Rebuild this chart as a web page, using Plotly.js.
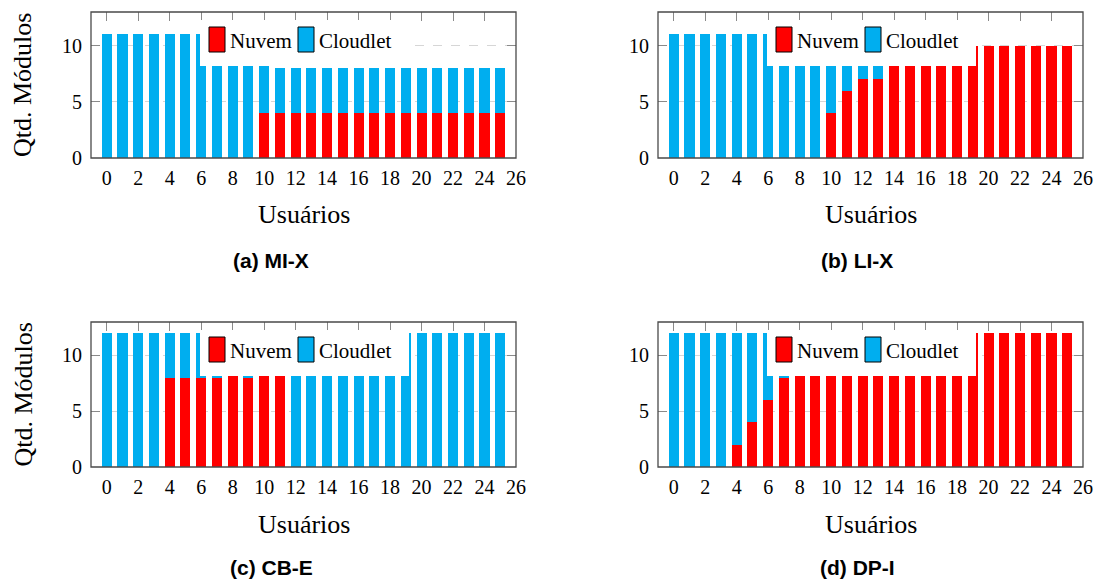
<!DOCTYPE html>
<html>
<head>
<meta charset="utf-8">
<script src="https://cdn.plot.ly/plotly-3.0.1.min.js"></script>
<style>html,body{margin:0;padding:0;background:#fff;}#chart{width:1099px;height:584px;}</style>
</head>
<body>
<div id="chart"></div>
<script>
// ---- data ----
const usuarios = [0,1,2,3,4,5,6,7,8,9,10,11,12,13,14,15,16,17,18,19,20,21,22,23,24,25];
const xTicks = [0,2,4,6,8,10,12,14,16,18,20,22,24,26];
const yTicks = [0,5,10];
const seriesNames = ["Nuvem", "Cloudlet"];
const panelCaptions = ["(a) MI-X", "(b) LI-X", "(c) CB-E", "(d) DP-I"];
const xTitle = "Usuários";
const yTitle = "Qtd. Módulos";

const nuvemMIX    = [0,0,0,0,0,0,0,0,0,0,4,4,4,4,4,4,4,4,4,4,4,4,4,4,4,4];
const cloudletMIX = [11,11,11,11,11,11,11,11,11,11,7,4,4,4,4,4,4,4,4,4,4,4,4,4,4,4];

const nuvemLIX    = [0,0,0,0,0,0,0,0,0,0,4,6,7,7,10,10,10,10,10,10,10,10,10,10,10,10];
const cloudletLIX = [11,11,11,11,11,11,11,11,11,11,7,5,4,4,0,0,0,0,0,0,0,0,0,0,0,0];

const nuvemCBE    = [0,0,0,0,8,8,8,8,12,8,12,12,0,0,0,0,0,0,0,0,0,0,0,0,0,0];
const cloudletCBE = [12,12,12,12,4,4,4,4,0,4,0,0,12,12,12,12,12,12,12,12,12,12,12,12,12,12];

const nuvemDPI    = [0,0,0,0,2,4,6,8,12,12,12,12,12,12,12,12,12,12,12,12,12,12,12,12,12,12];
const cloudletDPI = [12,12,12,12,10,8,6,4,0,0,0,0,0,0,0,0,0,0,0,0,0,0,0,0,0,0];

const panelData = [
  [nuvemMIX, cloudletMIX],
  [nuvemLIX, cloudletLIX],
  [nuvemCBE, cloudletCBE],
  [nuvemDPI, cloudletDPI]
];

// ---- layout helpers ----
const W = 1099, H = 584;
const px = x => x / W;
const py = y => 1 - y / H;
const RED = "#ff0000", BLUE = "#00aeef";
const SERIF = "'Liberation Serif', 'Times New Roman', serif";
const SANS = "'Liberation Sans', Arial, sans-serif";

const boxes = [
  {l:91,  r:516,  t:12,  b:158},
  {l:658, r:1083, t:12,  b:158},
  {l:91,  r:516,  t:322, b:467},
  {l:658, r:1083, t:322, b:467}
];

const traces = [];
const layout = {
  width: W, height: H,
  margin: {l:0, r:0, t:0, b:0},
  paper_bgcolor: "#fff", plot_bgcolor: "#fff",
  barmode: "stack",
  showlegend: false,
  shapes: [], annotations: []
};

boxes.forEach((bx, i) => {
  const sfx = i === 0 ? "" : String(i + 1);
  const xa = "x" + sfx, ya = "y" + sfx;
  const cols = [RED, BLUE];
  panelData[i].forEach((vals, k) => {
    traces.push({
      type: "bar", x: usuarios, y: vals, name: seriesNames[k],
      xaxis: xa, yaxis: ya, width: 0.64,
      marker: {color: cols[k], line: {width: 0}},
      hoverinfo: "skip"
    });
  });
  layout["xaxis" + sfx] = {
    domain: [px(bx.l), px(bx.r)], anchor: ya,
    range: [-1, 26], tickvals: xTicks, ticktext: xTicks.map(String),
    ticks: "inside", ticklen: 9, tickcolor: "#8a8a8a", tickwidth: 1,
    mirror: "ticks", showline: false, showgrid: false, zeroline: false,
    layer: "below traces", ticklabelstandoff: 6,
    tickfont: {family: SERIF, size: 20, color: "#000"}, fixedrange: true
  };
  layout["yaxis" + sfx] = {
    domain: [py(bx.b), py(bx.t)], anchor: xa,
    range: [0, 13], tickvals: yTicks, ticktext: yTicks.map(String),
    ticks: "inside", ticklen: 9, tickcolor: "#8a8a8a", tickwidth: 1,
    mirror: "ticks", showline: false, showgrid: true,
    gridcolor: "#d6d6d6", griddash: "dash", gridwidth: 1, zeroline: false,
    layer: "below traces", ticklabelstandoff: 8,
    tickfont: {family: SERIF, size: 20, color: "#000"}, fixedrange: true
  };
  // frame
  layout.shapes.push({type: "rect", xref: "paper", yref: "paper", layer: "above",
    x0: px(bx.l), x1: px(bx.r), y0: py(bx.b), y1: py(bx.t),
    line: {color: "#4a4a4a", width: 1.3}, fillcolor: "rgba(0,0,0,0)"});
  // legend box
  const L = bx.l + 109, T = bx.t + 8;
  layout.shapes.push({type: "rect", xref: "paper", yref: "paper", layer: "above",
    x0: px(L), x1: px(L + 209), y0: py(T + 46), y1: py(T),
    line: {width: 0}, fillcolor: "#fff"});
  const items = [{c: RED, dx: 9}, {c: BLUE, dx: 98}];
  items.forEach((it, k) => {
    layout.shapes.push({type: "rect", xref: "paper", yref: "paper", layer: "above",
      x0: px(L + it.dx), x1: px(L + it.dx + 16), y0: py(T + 32), y1: py(T + 7),
      line: {color: "#000", width: 1}, fillcolor: it.c});
    layout.annotations.push({xref: "paper", yref: "paper", showarrow: false,
      x: px(L + it.dx + 19), y: py(T + 21), xanchor: "left", yanchor: "middle",
      text: seriesNames[k], font: {family: SERIF, size: 21, color: "#000"}});
  });
  // axis titles
  layout.annotations.push({xref: "paper", yref: "paper", showarrow: false,
    x: px((bx.l + bx.r) / 2), y: py(bx.b + 57), xanchor: "center", yanchor: "middle",
    text: xTitle, font: {family: SERIF, size: 26, color: "#000"}});
  if (i % 2 === 0) {
    layout.annotations.push({xref: "paper", yref: "paper", showarrow: false,
      x: px(23), y: py((bx.t + bx.b) / 2), xanchor: "center", yanchor: "middle",
      textangle: -90,
      text: yTitle, font: {family: SERIF, size: 26, color: "#000"}});
  }
  // caption
  layout.annotations.push({xref: "paper", yref: "paper", showarrow: false,
    x: px(i % 2 === 0 ? 271 : 857), y: py(bx.b + (i < 2 ? 102 : 100)), xanchor: "center", yanchor: "middle",
    text: panelCaptions[i], font: {family: SANS, size: 21, color: "#000", weight: 700}});
});

Plotly.newPlot("chart", traces, layout, {displayModeBar: false, staticPlot: true});
</script>
</body>
</html>
